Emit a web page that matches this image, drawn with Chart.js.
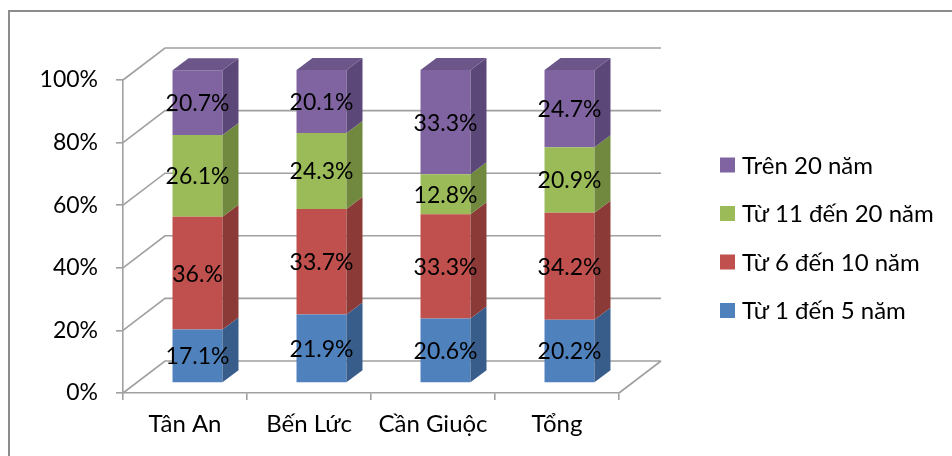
<!DOCTYPE html>
<html>
<head>
<meta charset="utf-8">
<script src="https://cdn.jsdelivr.net/npm/chart.js@4.4.1/dist/chart.umd.min.js"></script>
<style>
  html, body { margin: 0; padding: 0; background: #fff; }
  #wrap { width: 952px; height: 456px; }
</style>
</head>
<body>
<div id="wrap"><canvas id="myChart"></canvas></div>
<script>
// data
var categories = ['Tân An', 'Bến Lức', 'Cần Giuộc', 'Tổng'];
var seriesNames = ['Từ 1 đến 5 năm', 'Từ 6 đến 10 năm', 'Từ 11 đến 20 năm', 'Trên 20 năm'];
var tu1den5 = [17.1, 21.9, 20.6, 20.2];
var tu6den10 = [36.0, 33.7, 33.3, 34.2];
var tu11den20 = [26.1, 24.3, 12.8, 20.9];
var tren20 = [20.7, 20.1, 33.3, 24.7];
var yTicks = [0, 20, 40, 60, 80, 100];

// styles
var frontColors = ['#4F81BD', '#C0504D', '#9BBB59', '#8064A2'];
var sideColors = ['#385D8A', '#8C3A38', '#71893F', '#5C4878'];
var topColors = ['#4470A6', '#A64442', '#87A34C', '#6B5589'];
var gridColor = '#a0a0a0';
var FONT = 'Lato, "Noto Sans", sans-serif';
var WALL_DX = 42, WALL_DY = -32;   // depth of the back wall
var BAR_OX = 12.5, BAR_OY = -10;   // bars sit half way into the floor
var BAR_DX = 16, BAR_DY = -12;     // depth of one bar

function fmt(v) {
    return (Number.isInteger(v) ? v + '.' : v.toFixed(1)) + '%';
}

var wallPlugin = {
    id: 'wall3d',
    beforeDatasetsDraw: function(chart) {
        var ctx = chart.ctx, a = chart.chartArea, y = chart.scales.y;
        ctx.save();
        // outer frame
        ctx.strokeStyle = '#8c8c8c';
        ctx.lineWidth = 2;
        ctx.beginPath();
        ctx.moveTo(9, 456); ctx.lineTo(9, 11); ctx.lineTo(952, 11);
        ctx.stroke();

        ctx.strokeStyle = gridColor;
        ctx.lineWidth = 1.6;
        ctx.beginPath();
        yTicks.forEach(function(t) {
            var py = y.getPixelForValue(t);
            ctx.moveTo(a.left, py);
            ctx.lineTo(a.left + WALL_DX, py + WALL_DY);
            ctx.lineTo(a.right + WALL_DX, py + WALL_DY);
        });
        // floor right edge
        ctx.moveTo(a.right, a.bottom);
        ctx.lineTo(a.right + WALL_DX, a.bottom + WALL_DY);
        ctx.stroke();
        ctx.restore();

        ctx.save();
        ctx.translate(BAR_OX, BAR_OY);
    },
    afterDatasetsDraw: function(chart) {
        var ctx = chart.ctx;
        // side and top faces, bottom segment first
        for (var d = 0; d < chart.data.datasets.length; d++) {
            var meta = chart.getDatasetMeta(d);
            meta.data.forEach(function(bar) {
                var p = bar.getProps(['x', 'y', 'base', 'width'], true);
                var r = p.x + p.width / 2;
                var top = Math.min(p.y, p.base), bot = Math.max(p.y, p.base);
                ctx.fillStyle = sideColors[d];
                ctx.beginPath();
                ctx.moveTo(r, bot);
                ctx.lineTo(r + BAR_DX, bot + BAR_DY);
                ctx.lineTo(r + BAR_DX, top + BAR_DY);
                ctx.lineTo(r, top);
                ctx.closePath();
                ctx.fill();
                if (d === chart.data.datasets.length - 1) {
                    var l = p.x - p.width / 2;
                    ctx.fillStyle = topColors[d];
                    ctx.beginPath();
                    ctx.moveTo(l, top);
                    ctx.lineTo(r, top);
                    ctx.lineTo(r + BAR_DX, top + BAR_DY);
                    ctx.lineTo(l + BAR_DX, top + BAR_DY);
                    ctx.closePath();
                    ctx.fill();
                }
            });
        }
        // value labels on the front faces
        ctx.fillStyle = '#000';
        ctx.font = '23px ' + FONT;
        ctx.textAlign = 'center';
        ctx.textBaseline = 'middle';
        chart.data.datasets.forEach(function(ds, d) {
            chart.getDatasetMeta(d).data.forEach(function(bar, i) {
                var p = bar.getProps(['x', 'y', 'base'], true);
                ctx.fillText(fmt(ds.data[i]), p.x, (p.y + p.base) / 2 + 1);
            });
        });
        ctx.restore();
    },
    afterDraw: function(chart) {
        // legend, last series on top
        var ctx = chart.ctx;
        var ds = chart.data.datasets;
        ctx.save();
        ctx.font = '24px ' + FONT;
        ctx.textAlign = 'left';
        ctx.textBaseline = 'middle';
        for (var k = 0; k < ds.length; k++) {
            var d = ds[ds.length - 1 - k];
            var cy = 165 + k * 48.5;
            ctx.fillStyle = d.backgroundColor;
            ctx.fillRect(720, cy - 7.5, 15, 15);
            ctx.fillStyle = '#000';
            ctx.fillText(d.label, 742, cy + 1);
        }
        ctx.restore();
    }
};

var series = [tu1den5, tu6den10, tu11den20, tren20];
var ctx = document.getElementById('myChart').getContext('2d');
var myChart = new Chart(ctx, {
    type: 'bar',
    data: {
        labels: categories,
        datasets: series.map(function(vals, i) {
            return {
                label: seriesNames[i],
                data: vals,
                backgroundColor: frontColors[i],
                borderWidth: 0,
                barPercentage: 0.403,
                categoryPercentage: 1,
                clip: false
            };
        })
    },
    options: {
        responsive: true,
        maintainAspectRatio: false,
        animation: false,
        events: [],
        layout: { padding: { top: 80, right: 333, left: 0, bottom: 0 } },
        plugins: { legend: { display: false }, tooltip: { enabled: false } },
        scales: {
            x: {
                stacked: true,
                offset: true,
                afterFit: function(s) { s.height = 63; },
                grid: { offset: true, drawOnChartArea: false, tickLength: 7, color: gridColor, lineWidth: 1.6 },
                border: { color: gridColor, width: 1.6 },
                ticks: { color: '#000', font: { family: FONT, size: 24 }, padding: 10 }
            },
            y: {
                stacked: true,
                min: 0,
                max: 100,
                afterFit: function(s) { s.width = 123; },
                afterBuildTicks: function(s) { s.ticks = yTicks.map(function(v) { return { value: v }; }); },
                grid: { drawOnChartArea: false, tickLength: 7, color: gridColor, lineWidth: 1.6 },
                border: { color: gridColor, width: 1.6 },
                ticks: { color: '#000', font: { family: FONT, size: 23 }, padding: 18,
                         callback: function(v) { return v + '%'; } }
            }
        }
    },
    plugins: [wallPlugin]
});
</script>
</body>
</html>
